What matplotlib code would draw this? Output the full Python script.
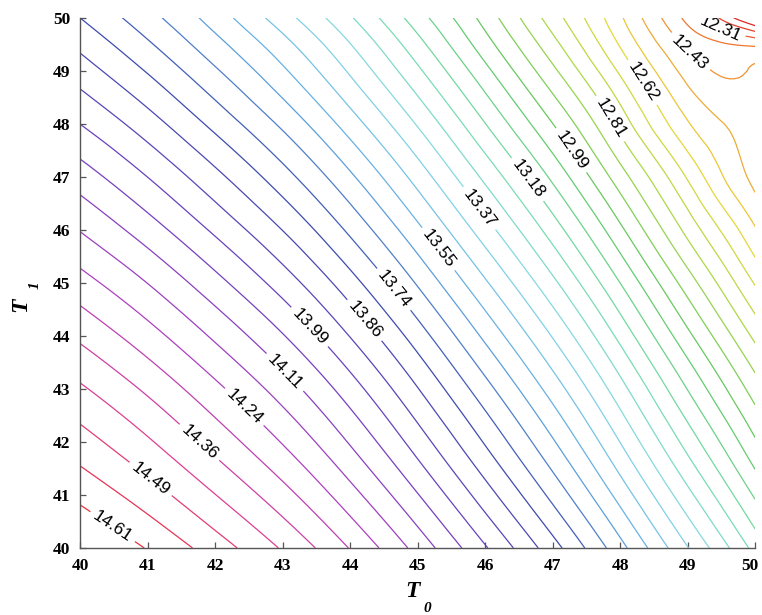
import numpy as np
import matplotlib
matplotlib.use("Agg")
import matplotlib.pyplot as plt
import matplotlib.tri as mtri
import matplotlib.transforms as mtrans
from matplotlib.colors import LinearSegmentedColormap

# grid nodes (extra nodes near the top-right corner)
t0 = [40, 41, 42, 43, 44, 45, 46, 47, 48, 49, 49.5, 50]
t1 = [40, 41, 42, 43, 44, 45, 46, 47, 48, 49, 49.5, 50]

# values, one row per T1 node
z = [
    [14.682, 14.606, 14.517, 14.417, 14.296, 14.153, 13.995, 13.827, 13.637, 13.432, 13.330, 13.221],
    [14.594, 14.516, 14.425, 14.323, 14.199, 14.054, 13.893, 13.722, 13.530, 13.323, 13.219, 13.109],
    [14.512, 14.432, 14.338, 14.233, 14.107, 13.959, 13.796, 13.623, 13.428, 13.218, 13.113, 13.002],
    [14.433, 14.350, 14.253, 14.146, 14.018, 13.867, 13.701, 13.526, 13.329, 13.116, 13.010, 12.901],
    [14.349, 14.263, 14.164, 14.055, 13.924, 13.771, 13.602, 13.425, 13.225, 13.010, 12.903, 12.792],
    [14.262, 14.174, 14.072, 13.960, 13.827, 13.671, 13.500, 13.320, 13.118, 12.901, 12.792, 12.677],
    [14.172, 14.081, 13.977, 13.863, 13.727, 13.569, 13.395, 13.213, 13.008, 12.788, 12.678, 12.565],
    [14.082, 13.988, 13.882, 13.765, 13.627, 13.466, 13.290, 13.105, 12.898, 12.676, 12.565, 12.478],
    [13.988, 13.893, 13.784, 13.665, 13.523, 13.361, 13.182, 12.995, 12.785, 12.565, 12.500, 12.462],
    [13.895, 13.797, 13.686, 13.564, 13.420, 13.255, 13.074, 12.884, 12.672, 12.472, 12.428, 12.441],
    [13.849, 13.749, 13.637, 13.514, 13.369, 13.202, 13.020, 12.829, 12.615, 12.422, 12.379, 12.360],
    [13.802, 13.701, 13.587, 13.457, 13.312, 13.147, 12.970, 12.776, 12.569, 12.354, 12.236, 12.093],
]

# labelled levels and where their labels sit
label_vals = [14.61, 14.486, 14.361, 14.237, 14.113, 13.988, 13.864, 13.740,
              13.553, 13.367, 13.180, 12.994, 12.807, 12.621, 12.434, 12.310]
label_pos = [(40.53, 40.49), (41.12, 41.42), (41.89, 42.16), (42.50, 42.75),
             (43.04, 43.32), (43.35, 44.11), (44.18, 44.26), (44.64, 44.87),
             (45.33, 45.66), (45.98, 46.47), (46.66, 46.98), (47.33, 47.55),
             (47.87, 48.11), (48.39, 48.83), (49.04, 49.36), (49.47, 49.77)]

levels = np.linspace(12.1858, 14.61, 40)
lab_levels = sorted(min(levels, key=lambda l: abs(l - v)) for v in label_vals)
plain_levels = [l for l in levels if l not in lab_levels]

# muted hsv-like line colours, low values red -> high values red
cmap = LinearSegmentedColormap.from_list('muted_hsv', [
    (0.00, '#e02828'), (0.08, '#f07c30'), (0.17, '#e8d838'), (0.26, '#a8d848'),
    (0.34, '#60c860'), (0.43, '#78dcb0'), (0.50, '#88d8e8'), (0.58, '#60a8e0'),
    (0.66, '#3a4cae'), (0.76, '#7040c0'), (0.85, '#b040c0'), (0.93, '#e04090'),
    (1.00, '#e83038')])

plt.rcParams['font.family'] = 'Liberation Sans'

fig = plt.figure(figsize=(7.62, 6.15), dpi=100)
ax = fig.add_axes([0.105, 0.109, 0.886, 0.862])

X, Y = np.meshgrid(t0, t1)
tri = mtri.Triangulation(X.ravel(), Y.ravel())
tri_f, z_f = mtri.UniformTriRefiner(tri).refine_field(np.array(z).ravel(), subdiv=3)

ax.tricontour(tri_f, z_f, levels=plain_levels, cmap=cmap,
              vmin=levels[0], vmax=levels[-1], linewidths=0.9)
cs = ax.tricontour(tri_f, z_f, levels=lab_levels, cmap=cmap,
                   vmin=levels[0], vmax=levels[-1], linewidths=0.9)
ax.clabel(cs, inline=True, fmt='%.2f', fontsize=12.5,
          manual=label_pos, colors='black')

ax.set_xlim(40, 50)
ax.set_ylim(40, 50)
ax.set_xticks(range(40, 51))
ax.set_yticks(range(40, 51))

for s in ['top', 'right']:
    ax.spines[s].set_visible(False)
for s in ['left', 'bottom']:
    ax.spines[s].set_color('#555555')
    ax.spines[s].set_linewidth(1.0)
ax.tick_params(direction='in', length=4, width=0.9, color='#555555', pad=7)
for t in ax.get_xticklabels() + ax.get_yticklabels():
    t.set_fontfamily('Liberation Serif')
    t.set_fontweight('bold')
    t.set_fontsize(12.5)

# keep the last x tick label inside the figure
last = ax.get_xticklabels()[-1]
last.set_transform(last.get_transform() +
                   mtrans.ScaledTranslation(-5 / 100, 0, fig.dpi_scale_trans))

# axis titles: T with a dropped subscript
fig.text(0.541, 0.038, 'T', family='Liberation Serif', weight='bold',
         style='italic', fontsize=17, ha='center', va='center')
fig.text(0.561, 0.010, '0', family='Liberation Serif', weight='bold',
         style='italic', fontsize=11, ha='center', va='center')
fig.text(0.027, 0.505, 'T', family='Liberation Serif', weight='bold',
         style='italic', fontsize=17, ha='center', va='center', rotation=90)
fig.text(0.046, 0.537, '1', family='Liberation Serif', weight='bold',
         style='italic', fontsize=11, ha='center', va='center', rotation=90)

fig.savefig('out.png', dpi=100)
